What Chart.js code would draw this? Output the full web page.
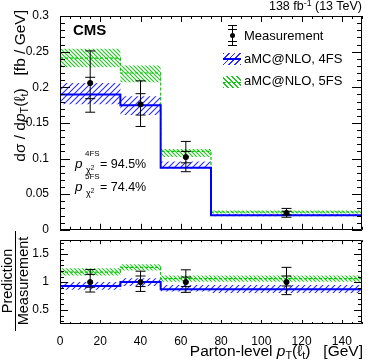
<!DOCTYPE html>
<html>
<head>
<meta charset="utf-8">
<script src="https://cdn.jsdelivr.net/npm/chart.js@4.4.1/dist/chart.umd.min.js"></script>
<style>
  html, body { margin: 0; padding: 0; background: #fff; }
  #fig { position: relative; width: 374px; height: 363px; overflow: hidden;
         font-family: 'Liberation Sans', Arial, sans-serif; color: #000; }
  #fig canvas { position: absolute; left: 0; }
  .t { position: absolute; white-space: nowrap; }
  .t sup, .t sub { font-size: 70%; line-height: 0; position: relative; vertical-align: 0; }
  .t sup { top: -0.45em; }
  .t sub { top: 0.3em; }
  .rot { transform-origin: 0 0; transform: rotate(-90deg); }
  .sym { position: absolute; }
</style>
</head>
<body>
<div id="fig">
  <canvas id="mainCanvas" width="374" height="240" style="top:0"></canvas>
  <canvas id="ratioCanvas" width="374" height="133" style="top:230px"></canvas>

  <div class="t" style="font-size:12.5px;line-height:12px;right:12px;top:0px">138 fb<sup>-1</sup> (13 TeV)</div>
  <div class="t" style="font-size:15px;line-height:15px;left:73px;top:22px;font-weight:bold">CMS</div>

  <!-- legend -->
  <div class="sym" style="left:232px;top:25px;width:1px;height:21px;background:#000"></div>
  <div class="sym" style="left:228px;top:25px;width:9px;height:1px;background:#000"></div>
  <div class="sym" style="left:228px;top:29px;width:9px;height:1px;background:#000"></div>
  <div class="sym" style="left:228px;top:41px;width:9px;height:1px;background:#000"></div>
  <div class="sym" style="left:228px;top:45px;width:9px;height:1px;background:#000"></div>
  <div class="sym" style="left:230px;top:33px;width:5px;height:5px;border-radius:50%;background:#000"></div>
  <div class="t" style="font-size:13px;line-height:13px;left:244px;top:29px">Measurement</div>

  <div class="sym" style="left:223px;top:53px;width:18px;height:12px;background:repeating-linear-gradient(135deg,#2b2bff 0 1px,transparent 1px 4px)"></div>
  <div class="sym" style="left:223px;top:58px;width:18px;height:2px;background:#0000ff"></div>
  <div class="t" style="font-size:13px;line-height:13px;left:244px;top:52px">aMC@NLO, 4FS</div>

  <div class="sym" style="left:223px;top:76px;width:18px;height:12px;background:repeating-linear-gradient(45deg,#22c322 0 1px,transparent 1px 3.5px)"></div>
  <div class="sym" style="left:223px;top:82px;width:18px;height:0;border-top:1px dashed #00cc00"></div>
  <div class="t" style="font-size:13px;line-height:13px;left:244px;top:74px">aMC@NLO, 5FS</div>

  <!-- p-values -->
  <div class="t" style="font-size:13.5px;line-height:13px;left:75px;top:157px;font-style:italic">p</div>
  <div class="t" style="font-size:8px;line-height:8px;left:85px;top:150px">4FS</div>
  <div class="t" style="font-size:9px;line-height:9px;left:86px;top:166px">χ<sup>2</sup></div>
  <div class="t" style="font-size:12.5px;line-height:12px;left:100px;top:158px">= 94.5%</div>
  <div class="t" style="font-size:13.5px;line-height:13px;left:75px;top:180px;font-style:italic">p</div>
  <div class="t" style="font-size:8px;line-height:8px;left:85px;top:173px">5FS</div>
  <div class="t" style="font-size:9px;line-height:9px;left:86px;top:189px">χ<sup>2</sup></div>
  <div class="t" style="font-size:12.5px;line-height:12px;left:100px;top:181px">= 74.4%</div>

  <!-- axis titles -->
  <div class="t rot" style="font-size:15.5px;line-height:15px;left:12px;top:210px;width:200px;text-align:right">dσ / d<i>p</i><sub>T</sub>(ℓ<sub>t</sub>)&nbsp;&nbsp; [fb / GeV]</div>
  <div class="t" style="font-size:15.5px;line-height:15px;right:11px;top:343px">Parton-level <i>p</i><sub>T</sub>(ℓ<sub>t</sub>)&nbsp;&nbsp; [GeV]</div>
  <div class="t rot" style="font-size:14.5px;left:1px;top:331px;width:100px;text-align:center">
    <div style="line-height:13px;border-bottom:1px solid #000;padding-bottom:1px">Prediction</div>
    <div style="line-height:13px;padding-top:1px">Measurement</div>
  </div>
</div>

<script>
// bins in parton-level pT(l_t) [GeV]
const BIN_EDGES = [0, 30, 50, 75, 150];
const BIN_CENTERS = [15, 40, 62.5, 112.5];

// upper panel: dsigma/dpT [fb/GeV]
const MEAS = [0.206, 0.176, 0.102, 0.0236];
const MEAS_TOT_LO = [0.165, 0.145, 0.0815, 0.0176];
const MEAS_TOT_HI = [0.251, 0.209, 0.124, 0.030];
const MEAS_STAT_LO = [0.184, 0.161, 0.094, 0.021];
const MEAS_STAT_HI = [0.214, 0.191, 0.110, 0.026];
const NLO4 = [0.190, 0.1746, 0.087, 0.0204];
const NLO4_LO = [0.176, 0.161, 0.086, 0.019];
const NLO4_HI = [0.206, 0.1875, 0.096, 0.022];
const NLO5 = [0.241, 0.220, 0.110, 0.025];
const NLO5_LO = [0.228, 0.207, 0.102, 0.023];
const NLO5_HI = [0.254, 0.2305, 0.1135, 0.027];

// lower panel: prediction / measurement
const R_MEAS = [1, 1, 1, 1];
const R_TOT_LO = [0.822, 0.833, 0.816, 0.776];
const R_TOT_HI = [1.224, 1.195, 1.22, 1.264];
const R_STAT_LO = [0.908, 0.92, 0.92, 0.931];
const R_STAT_HI = [1.138, 1.109, 1.09, 1.109];
const R_NLO4 = [0.93, 1.0, 0.874, 0.874];
const R_NLO4_LO = [0.865, 0.93, 0.83, 0.805];
const R_NLO4_HI = [1.0, 1.07, 0.95, 0.95];
const R_NLO5 = [1.178, 1.264, 1.063, 1.063];
const R_NLO5_LO = [1.12, 1.207, 1.005, 1.005];
const R_NLO5_HI = [1.247, 1.32, 1.12, 1.12];

const X_TICKS = [0, 20, 40, 60, 80, 100, 120, 140];
const Y_TICKS = [0, 0.05, 0.1, 0.15, 0.2, 0.25, 0.3];
const R_TICKS = [0.5, 1, 1.5];

Chart.defaults.font.family = "'Liberation Sans', Arial, sans-serif";
Chart.defaults.font.size = 12;
Chart.defaults.color = '#000';

// ROOT style frame: box + inward major/minor ticks on all four sides
const rootFrame = {
  id: 'rootFrame',
  afterDatasetsDraw(chart, args, o) {
    const { ctx, chartArea: a } = chart;
    const xs = chart.scales.x, ys = chart.scales.y;
    const each = (min, max, step, fn) => {
      const n0 = Math.ceil(min / step - 1e-6), n1 = Math.floor(max / step + 1e-6);
      for (let n = n0; n <= n1; n++) fn(n * step);
    };
    const isMajor = (v, m) => Math.abs(v / m - Math.round(v / m)) < 1e-6;
    ctx.save();
    ctx.strokeStyle = '#000';
    ctx.lineWidth = 1;
    ctx.beginPath();
    ctx.rect(Math.round(a.left) + 0.5, Math.round(a.top) + 0.5,
             Math.round(a.right - a.left) - 1, Math.round(a.bottom - a.top) - 1);
    each(xs.min, xs.max, o.xMinor, v => {
      const len = isMajor(v, o.xMajor) ? o.xLen[0] : o.xLen[1];
      const px = Math.round(xs.getPixelForValue(v)) + 0.5;
      ctx.moveTo(px, a.bottom); ctx.lineTo(px, a.bottom - len);
      ctx.moveTo(px, a.top); ctx.lineTo(px, a.top + len);
    });
    each(ys.min, ys.max, o.yMinor, v => {
      const len = isMajor(v, o.yMajor) ? o.yLen[0] : o.yLen[1];
      const py = Math.round(ys.getPixelForValue(v)) + 0.5;
      ctx.moveTo(a.left, py); ctx.lineTo(a.left + len, py);
      ctx.moveTo(a.right, py); ctx.lineTo(a.right - len, py);
    });
    ctx.stroke();
    ctx.restore();
  }
};

function makeHatch(canvas, color, size, forward) {
  const c = document.createElement('canvas');
  c.width = size; c.height = size;
  const g = c.getContext('2d');
  g.strokeStyle = color;
  g.lineWidth = 1.1;
  g.beginPath();
  if (forward) { // "/"
    g.moveTo(0, size); g.lineTo(size, 0);
    g.moveTo(-1, 1); g.lineTo(1, -1);
    g.moveTo(size - 1, size + 1); g.lineTo(size + 1, size - 1);
  } else { // "\"
    g.moveTo(0, 0); g.lineTo(size, size);
    g.moveTo(-1, size - 1); g.lineTo(1, size + 1);
    g.moveTo(size - 1, -1); g.lineTo(size + 1, 1);
  }
  g.stroke();
  return canvas.getContext('2d').createPattern(c, 'repeat');
}

// histogram as a stepped line through the bin edges
function histPoints(vals) {
  return BIN_EDGES.map((x, i) => ({ x, y: vals[Math.min(i, vals.length - 1)] }));
}

function measDatasets(central, totLo, totHi, statLo, statHi) {
  return [
    { // markers
      data: BIN_CENTERS.map((x, i) => ({ x, y: central[i] })),
      showLine: false, pointStyle: 'circle', pointRadius: 2.6,
      pointBackgroundColor: '#000', pointBorderColor: '#000', order: 0
    },
    { // total uncertainty with end caps (null breaks the line between bins)
      data: BIN_CENTERS.flatMap((x, i) => [{ x, y: totLo[i] }, { x, y: totHi[i] }, { x, y: null }]),
      spanGaps: false, borderColor: '#000', borderWidth: 1,
      pointStyle: 'line', pointRadius: 5, pointBorderColor: '#000', pointBorderWidth: 1, order: 0
    },
    { // statistical caps
      data: BIN_CENTERS.flatMap((x, i) => [{ x, y: statLo[i] }, { x, y: statHi[i] }]),
      showLine: false, pointStyle: 'line', pointRadius: 5,
      pointBorderColor: '#000', pointBorderWidth: 1, order: 0
    }
  ];
}

function predDatasets(vals, lo, hi, color, width, dash, pattern) {
  return [
    { data: histPoints(vals), stepped: true, borderColor: color, borderWidth: width,
      borderDash: dash, pointRadius: 0, order: 1 },
    { data: histPoints(hi), stepped: true, borderColor: 'rgba(0,0,0,0)', borderWidth: 0,
      pointRadius: 0, order: 3 },
    { data: histPoints(lo), stepped: true, borderColor: 'rgba(0,0,0,0)', borderWidth: 0,
      pointRadius: 0, fill: '-1', backgroundColor: pattern, order: 3 }
  ];
}

function makeChart(canvas, datasets, yMin, yMax, yTicks, opts) {
  return new Chart(canvas, {
    type: 'line',
    data: { datasets },
    options: {
      responsive: false,
      animation: false,
      devicePixelRatio: 1,
      events: [],
      layout: { padding: { top: opts.padTop, right: 12, left: 0, bottom: 0 } },
      plugins: {
        legend: { display: false },
        tooltip: { enabled: false },
        rootFrame: opts.frame
      },
      scales: {
        x: {
          type: 'linear', min: 0, max: 150,
          grid: { display: false }, border: { display: false },
          ticks: { display: opts.xLabels, padding: 2, maxRotation: 0 },
          afterBuildTicks: s => { s.ticks = X_TICKS.map(v => ({ value: v })); },
          afterFit: s => { s.height = opts.xHeight; }
        },
        y: {
          type: 'linear', min: yMin, max: yMax,
          grid: { display: false }, border: { display: false },
          ticks: { padding: 3, callback: v => String(Number(v.toFixed(3))) },
          afterBuildTicks: s => { s.ticks = yTicks.map(v => ({ value: v })); },
          afterFit: s => { s.width = 60; }
        }
      }
    },
    plugins: [rootFrame]
  });
}

const mainCanvas = document.getElementById('mainCanvas');
const ratioCanvas = document.getElementById('ratioCanvas');

makeChart(mainCanvas, [
  ...measDatasets(MEAS, MEAS_TOT_LO, MEAS_TOT_HI, MEAS_STAT_LO, MEAS_STAT_HI),
  ...predDatasets(NLO4, NLO4_LO, NLO4_HI, '#0000ff', 2, [], makeHatch(mainCanvas, '#2b2bff', 6, true)),
  ...predDatasets(NLO5, NLO5_LO, NLO5_HI, '#00cc00', 1.2, [3, 2], makeHatch(mainCanvas, '#22c322', 4, false))
], 0, 0.3, Y_TICKS, {
  padTop: 16, xHeight: 9, xLabels: false,
  frame: { xMajor: 20, xMinor: 5, xLen: [6, 3], yMajor: 0.05, yMinor: 0.01, yLen: [10, 5] }
});

makeChart(ratioCanvas, [
  ...measDatasets(R_MEAS, R_TOT_LO, R_TOT_HI, R_STAT_LO, R_STAT_HI),
  ...predDatasets(R_NLO4, R_NLO4_LO, R_NLO4_HI, '#0000ff', 2, [], makeHatch(ratioCanvas, '#2b2bff', 6, true)),
  ...predDatasets(R_NLO5, R_NLO5_LO, R_NLO5_HI, '#00cc00', 1.2, [3, 2], makeHatch(ratioCanvas, '#22c322', 4, false))
], 0.25, 1.75, R_TICKS, {
  padTop: 8, xHeight: 39, xLabels: true,
  frame: { xMajor: 20, xMinor: 5, xLen: [4, 2], yMajor: 0.5, yMinor: 0.1, yLen: [8, 4] }
});
</script>
</body>
</html>
